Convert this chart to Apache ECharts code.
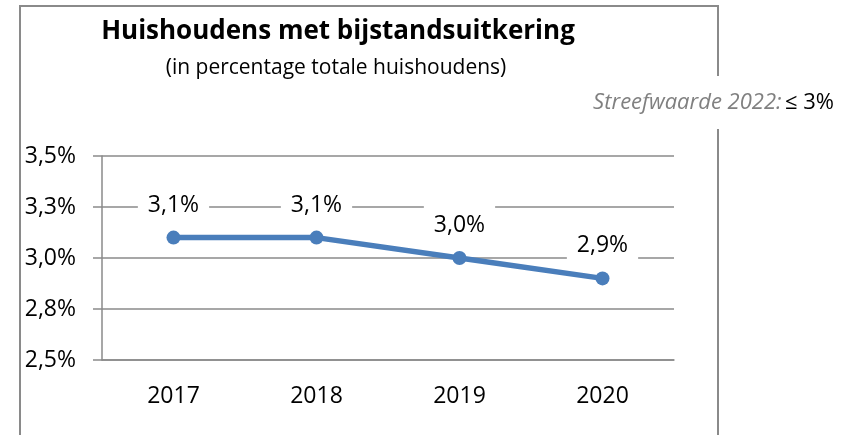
<!DOCTYPE html>
<html>
<head>
<meta charset="utf-8">
<title>Huishoudens met bijstandsuitkering</title>
<script src="https://cdn.jsdelivr.net/npm/echarts@6/dist/echarts.min.js"></script>
<style>
  html, body { margin: 0; padding: 0; background: #ffffff; }
  #chart { width: 850px; height: 435px; }
</style>
</head>
<body>
<div id="chart"></div>
<script>
// Share of households receiving social assistance, per year
const years = ['2017', '2018', '2019', '2020'];
const sharePct = [3.1, 3.1, 3.0, 2.9];
const yTickLabels = ['2,5%', '2,8%', '3,0%', '3,3%', '3,5%'];

const titleText = 'Huishoudens met bijstandsuitkering';
const subtitleText = '(in percentage totale huishoudens)';
const targetLabel = 'Streefwaarde 2022:';
const targetValue = '≤ 3%';

const FONT = '"Open Sans", "Noto Sans", sans-serif';
const GRID_GREY = '#8a8a8a';
const LINE_BLUE = '#4a7ebb';

const fmtPct = v => v.toFixed(1).replace('.', ',') + '%';

const chart = echarts.init(document.getElementById('chart'), null, { renderer: 'canvas' });

chart.setOption({
  backgroundColor: '#ffffff',
  animation: false,
  textStyle: { fontFamily: FONT },
  grid: { left: 102, right: 176, top: 156, bottom: 75, containLabel: false },
  xAxis: {
    type: 'category',
    data: years,
    boundaryGap: true,
    axisLine: { show: true, lineStyle: { color: GRID_GREY, width: 1.5 } },
    axisTick: { show: false },
    axisLabel: { color: '#000000', fontSize: 23, fontFamily: FONT, margin: 25 }
  },
  yAxis: {
    type: 'value',
    min: 2.5,
    max: 3.5,
    interval: 0.25,
    axisLine: { show: true, lineStyle: { color: GRID_GREY, width: 1.5 } },
    axisTick: { show: true, length: 9, lineStyle: { color: GRID_GREY, width: 1.5 } },
    splitLine: { show: true, lineStyle: { color: GRID_GREY, width: 1.5 } },
    axisLabel: {
      color: '#000000', fontSize: 23, fontFamily: FONT, margin: 26,
      formatter: (value, index) => yTickLabels[index]
    }
  },
  series: [{
    type: 'line',
    data: sharePct,
    symbol: 'circle',
    symbolSize: 14,
    lineStyle: { color: LINE_BLUE, width: 5.5 },
    itemStyle: { color: LINE_BLUE },
    label: {
      show: true,
      position: 'top',
      distance: 6,
      color: '#000000',
      fontSize: 23,
      fontFamily: FONT,
      backgroundColor: '#ffffff',
      padding: [8, 10],
      formatter: p => fmtPct(p.value)
    }
  }],
  graphic: [
    {
      type: 'rect',
      z: 100,
      shape: { x: 20, y: 6, width: 698, height: 450 },
      style: { fill: null, stroke: GRID_GREY, lineWidth: 2 }
    },
    {
      type: 'rect',
      z: 101,
      shape: { x: 580, y: 76, width: 270, height: 53 },
      style: { fill: '#ffffff', stroke: null }
    },
    {
      type: 'text',
      z: 102,
      x: 834, y: 103,
      style: {
        text: '{a|' + targetLabel + '} {b|' + targetValue + '}',
        align: 'right',
        verticalAlign: 'middle',
        rich: {
          a: { fontFamily: FONT, fontSize: 22, fontStyle: 'italic', fill: '#808080' },
          b: { fontFamily: FONT, fontSize: 22, fill: '#000000' }
        }
      }
    },
    {
      type: 'text',
      z: 102,
      x: 338, y: 32,
      style: {
        text: titleText,
        align: 'center',
        verticalAlign: 'middle',
        fontFamily: FONT,
        fontSize: 26,
        fontWeight: 'bold',
        fill: '#000000'
      }
    },
    {
      type: 'text',
      z: 102,
      x: 336, y: 68,
      style: {
        text: subtitleText,
        align: 'center',
        verticalAlign: 'middle',
        fontFamily: FONT,
        fontSize: 21,
        fill: '#000000'
      }
    }
  ]
});
</script>
</body>
</html>
